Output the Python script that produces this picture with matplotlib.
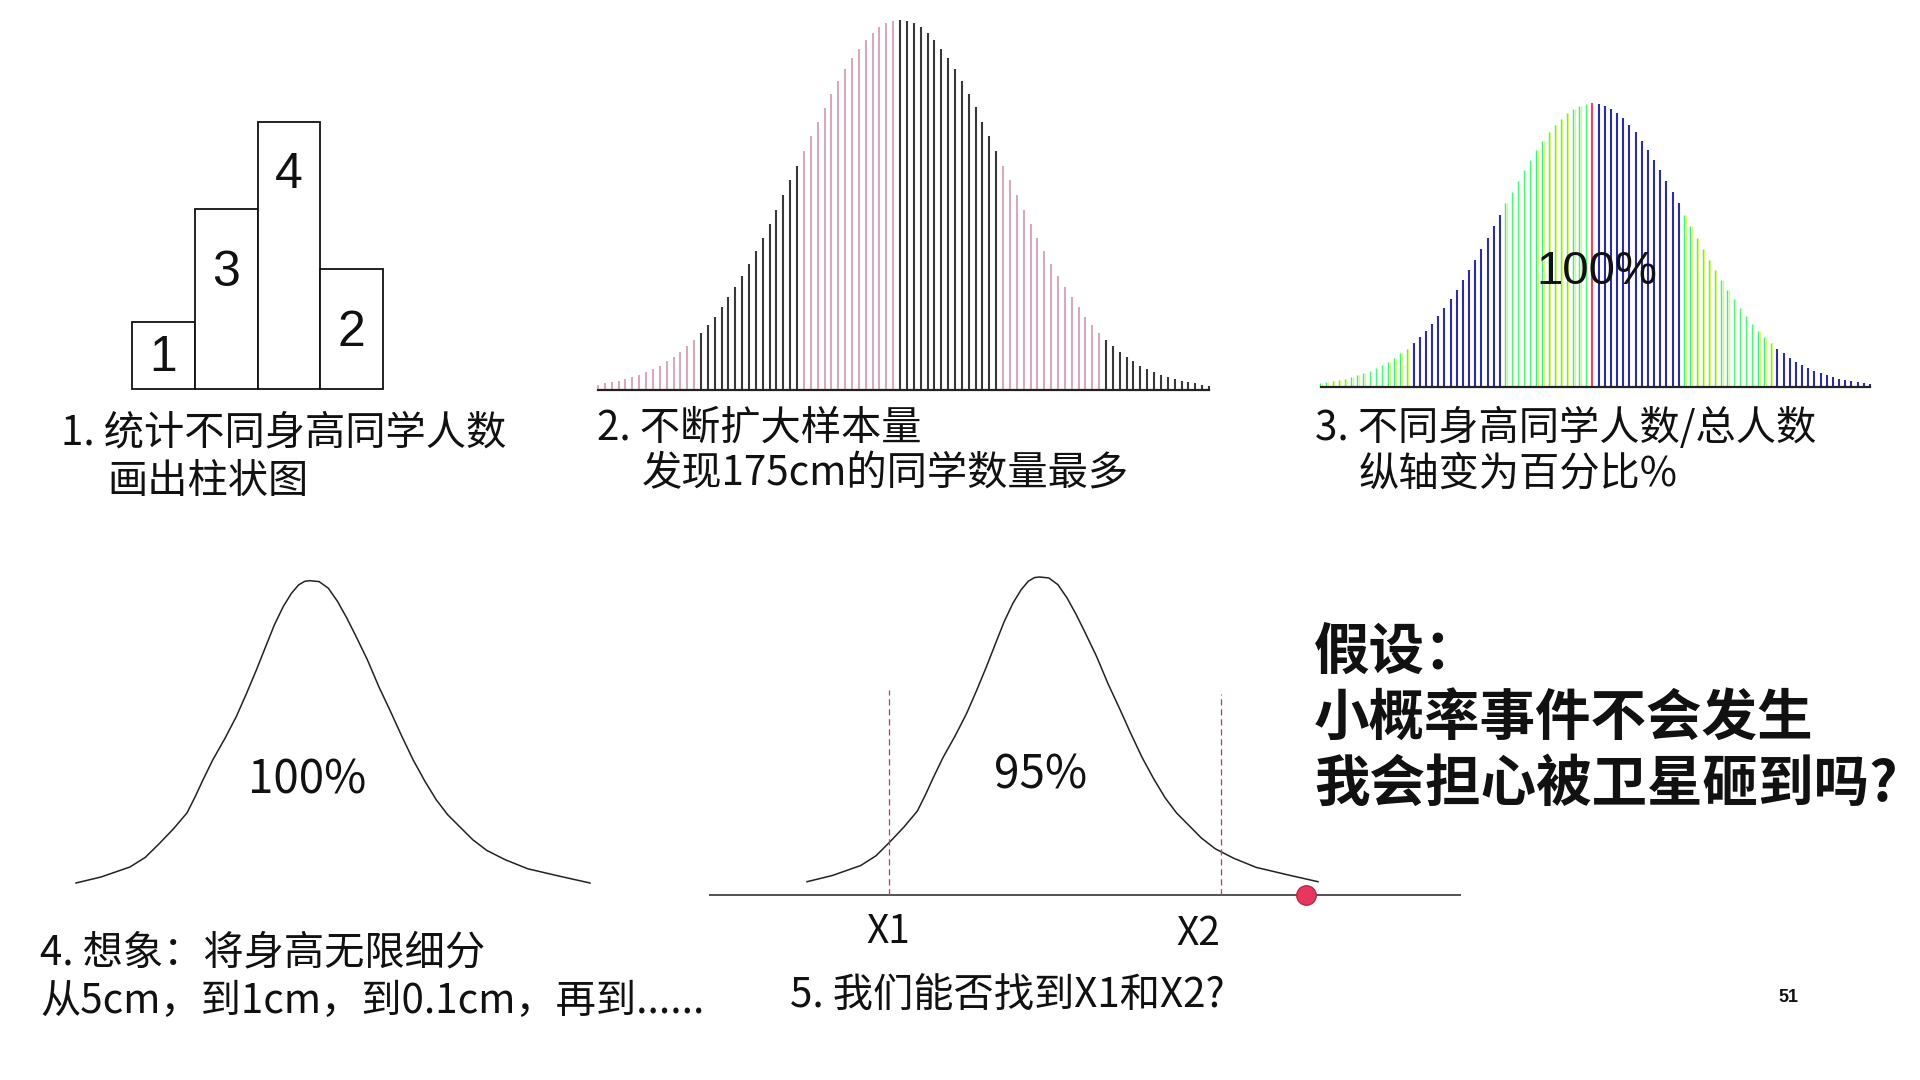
import matplotlib.pyplot as plt
from matplotlib import transforms

W, H = 1920, 1080

# step 1: four height groups
step_counts = [1, 3, 4, 2]
step_heights = [1.0, 2.7, 4.0, 1.8]

# step 2/3: bigger sample, one bar per height bin
sample_heights = [15, 20, 23, 27, 33, 39, 45, 54, 62, 73,
                  86, 99, 115, 131, 150, 172, 195, 220, 248, 278,
                  310, 342, 378, 417, 457, 498, 540, 584, 629, 673,
                  718, 762, 805, 847, 888, 927, 962, 995, 1024, 1049,
                  1071, 1088, 1100, 1107, 1110, 1108, 1100, 1088, 1071, 1050,
                  1024, 995, 962, 927, 888, 848, 805, 762, 718, 673,
                  629, 584, 540, 498, 457, 417, 378, 342, 310, 278,
                  248, 220, 195, 172, 150, 131, 115, 99, 86, 73,
                  62, 54, 45, 39, 33, 27, 23, 20, 15, 12]
group_sizes = [15, 15, 14, 15, 15, 16]
peak_index = 44

# step 4/5: the smooth curve, normalised
curve_x = [0.0, 0.049, 0.105, 0.135, 0.163, 0.190, 0.216, 0.232, 0.247, 0.266,
           0.290, 0.312, 0.332, 0.351, 0.369, 0.386, 0.403, 0.419, 0.433, 0.445,
           0.455, 0.473, 0.491, 0.509, 0.527, 0.545, 0.567, 0.589, 0.612, 0.634,
           0.656, 0.679, 0.701, 0.723, 0.746, 0.772, 0.799, 0.835, 0.879, 0.942, 1.0]
curve_y = [0.0, 0.020, 0.053, 0.085, 0.132, 0.180, 0.232, 0.286, 0.341, 0.407,
           0.479, 0.551, 0.628, 0.705, 0.782, 0.854, 0.914, 0.958, 0.986, 0.998,
           1.0, 0.997, 0.975, 0.931, 0.876, 0.815, 0.738, 0.650, 0.567, 0.485,
           0.407, 0.336, 0.275, 0.226, 0.187, 0.143, 0.108, 0.077, 0.047, 0.022, 0.0]
x1_pos, x2_pos = 0.16, 0.81
rare_x = 0.977

fig = plt.figure(figsize=(19.2, 10.8), dpi=100)
fig.patch.set_facecolor('white')
plt.rcParams['font.family'] = ['Noto Sans CJK SC', 'DejaVu Sans']


def panel(x0, x1, ybot, ytop, xlim, ylim):
    # pixel box (top-left origin) that the data limits map onto
    ax = fig.add_axes([x0 / W, 1 - ybot / H, (x1 - x0) / W, (ybot - ytop) / H])
    ax.set_xlim(*xlim)
    ax.set_ylim(*ylim)
    ax.axis('off')
    return ax


def label(x, y, s, size, **kw):
    kw.setdefault('va', 'center')
    fig.text(x / W, 1 - y / H, s, fontsize=size, **kw)


# ---- 1. bar chart
ax1 = panel(132, 383, 389, 122, (-0.5, 3.5), (0, 4))
ax1.bar(range(4), step_heights, width=1, facecolor='white', edgecolor='#111111',
        linewidth=1.3, clip_on=False)
label_y = [0.46, 1.74, 3.2, 0.84]
for i, c in enumerate(step_counts):
    ax1.text(i, label_y[i], str(c), ha='center', va='center', fontsize=36,
             family='Liberation Sans', color='#111111')

# ---- 2. many bars
idx = list(range(len(sample_heights)))
cols2 = []
for g, n in enumerate(group_sizes):
    cols2 += ['#D7A9BE' if g % 2 == 0 else '#383838'] * n
ax2 = panel(598, 1209, 390, 20, (0, 89), (0, max(sample_heights)))
ax2.vlines(idx, 0, sample_heights, colors=cols2, linewidth=1.5, clip_on=False)
ax2.axhline(0, color='#222222', linewidth=1.6, clip_on=False)

# ---- 3. percentages
total = sum(sample_heights)
pct = [v / total * 100 for v in sample_heights]
ax3 = panel(1321, 1870, 387, 103, (0, 89), (0, max(pct)))
green_i, blue_i = [], []
start = 0
for g, n in enumerate(group_sizes):
    rng = [i for i in range(start, start + n) if i != peak_index]
    (green_i if g % 2 == 0 else blue_i).extend(rng)
    start += n
left_t = transforms.offset_copy(ax3.transData, fig=fig, x=-0.7, y=0, units='dots')
right_t = transforms.offset_copy(ax3.transData, fig=fig, x=0.7, y=0, units='dots')
ax3.vlines(green_i, 0, [pct[i] for i in green_i], colors='#30EE9A',
           linewidth=1.0, transform=left_t, clip_on=False)
ax3.vlines(green_i, 0, [pct[i] for i in green_i], colors='#D8FF5E',
           linewidth=1.0, transform=right_t, clip_on=False)
ax3.vlines(blue_i, 0, [pct[i] for i in blue_i], colors='#2C2CA4',
           linewidth=1.5, clip_on=False)
ax3.vlines([peak_index], 0, [pct[peak_index]], colors='#FF3A5A',
           linewidth=1.5, clip_on=False)
ax3.axhline(0, color='#222222', linewidth=1.6, clip_on=False)
label(1597, 272, '100%', 34, ha='center', family='Liberation Sans', color='#111111')

# ---- 4. continuous curve
ax4 = panel(76, 590, 883, 580.7, (0, 1), (0, 1))
ax4.plot(curve_x, curve_y, color='#222222', linewidth=1.1,
         solid_joinstyle='round', clip_on=False)
label(307, 780, '100%', 33, ha='center', color='#111111')

# ---- 5. X1 / X2
axis_y = -0.044
ax5 = panel(807, 1318, 881.7, 577, (0, 1), (0, 1))
ax5.plot(curve_x, curve_y, color='#222222', linewidth=1.1,
         solid_joinstyle='round', clip_on=False)
ax5.hlines(axis_y, -0.192, 1.28, color='#222222', linewidth=1.1, clip_on=False)
ax5.vlines([x1_pos, x2_pos], axis_y, [0.629, 0.616], colors='#B0405F',
           linewidth=0.9, linestyles=(0, (5, 3)), clip_on=False)
ax5.plot([rare_x], [axis_y], 'o', markersize=14, markerfacecolor='#E8375C',
         markeredgecolor='#B8284A', markeredgewidth=1, clip_on=False, zorder=5)
label(1041, 775, '95%', 33, ha='center', color='#111111')
label(888, 932, 'X1', 28, ha='center', color='#111111')
label(1198, 934, 'X2', 28, ha='center', color='#111111')

# ---- captions
cap = 29
label(61, 433, '1. 统计不同身高同学人数', cap, color='#111111')
label(107, 482, '画出柱状图', cap, color='#111111')
label(597, 428, '2. 不断扩大样本量', cap, color='#111111')
label(642, 474, '发现175cm的同学数量最多', cap, color='#111111')
label(1315, 428, '3. 不同身高同学人数/总人数', cap, color='#111111')
label(1359, 474, '纵轴变为百分比%', cap, color='#111111')
label(40, 953, '4. 想象：将身高无限细分', cap, color='#111111')
label(40, 1001, '从5cm，到1cm，到0.1cm，再到......', cap, color='#111111')
label(790, 995, '5. 我们能否找到X1和X2?', cap, color='#111111')

# ---- hypothesis
claim_lines = ['假设：', '小概率事件不会发生', '我会担心被卫星砸到吗?']
for k, line in enumerate(claim_lines):
    label(1314, 653 + 66 * k, line, 40, weight='black', color='#111111')

label(1788, 998, '51', 13, ha='center', family='Liberation Sans',
      weight='bold', color='#111111')

fig.savefig('out.png', dpi=100, facecolor='white')
